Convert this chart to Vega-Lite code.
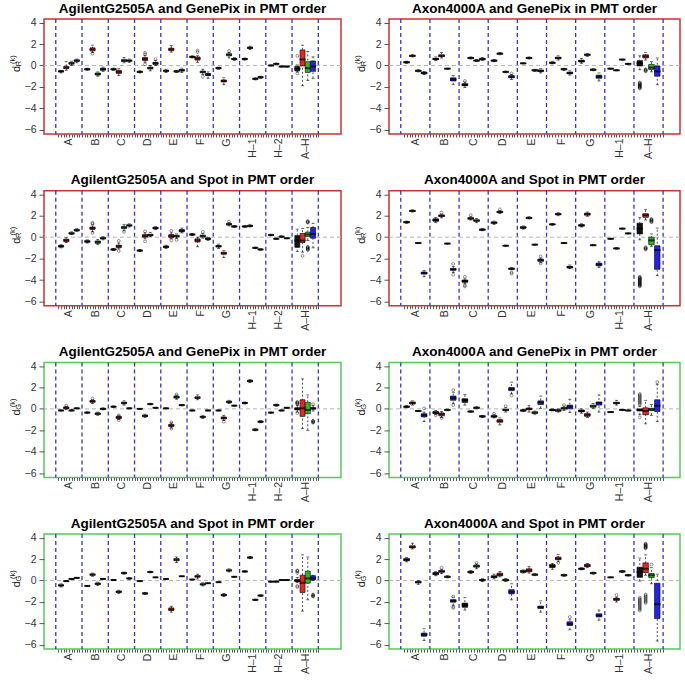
{
"$schema": "https://vega.github.io/schema/vega-lite/v6.json",
"padding": {"left": 7, "top": 0, "right": 4, "bottom": 4},
"background": "white",
"bounds": "flush",
"columns": 2,
"spacing": {"row": 56.7, "column": 48},
"datasets": {
"seps": [
{"side":"L","x":0},{"side":"L","x":5},{"side":"L","x":10},{"side":"L","x":15},{"side":"L","x":20},{"side":"L","x":25},{"side":"L","x":30},{"side":"L","x":35},{"side":"L","x":40},{"side":"L","x":45},{"side":"L","x":50},
{"side":"R","x":0},{"side":"R","x":5},{"side":"R","x":10},{"side":"R","x":15},{"side":"R","x":20},{"side":"R","x":25},{"side":"R","x":30},{"side":"R","x":35},{"side":"R","x":40},{"side":"R","x":45}
],
"box": [
{"p":1,"x":1,"s":1,"lo":-0.7,"q1":-0.6,"m":-0.55,"q3":-0.5,"hi":-0.45},
{"p":1,"x":2,"s":2,"lo":-0.45,"q1":-0.3,"m":-0.2,"q3":-0.1,"hi":0.35},
{"p":1,"x":3,"s":3,"lo":0.0,"q1":0.12,"m":0.2,"q3":0.28,"hi":0.4},
{"p":1,"x":4,"s":4,"lo":0.25,"q1":0.38,"m":0.45,"q3":0.52,"hi":0.6},
{"p":1,"x":6,"s":1,"lo":-0.45,"q1":-0.4,"m":-0.35,"q3":-0.3,"hi":-0.25},
{"p":1,"x":7,"s":2,"lo":1.2,"q1":1.35,"m":1.5,"q3":1.65,"hi":1.9},
{"p":1,"x":8,"s":3,"lo":-1.0,"q1":-0.9,"m":-0.8,"q3":-0.7,"hi":-0.6},
{"p":1,"x":9,"s":4,"lo":-0.55,"q1":-0.45,"m":-0.35,"q3":-0.25,"hi":-0.15},
{"p":1,"x":11,"s":1,"lo":-0.45,"q1":-0.4,"m":-0.35,"q3":-0.3,"hi":-0.25},
{"p":1,"x":12,"s":2,"lo":-0.95,"q1":-0.75,"m":-0.6,"q3":-0.45,"hi":-0.3},
{"p":1,"x":13,"s":3,"lo":0.25,"q1":0.38,"m":0.45,"q3":0.55,"hi":0.75},
{"p":1,"x":14,"s":4,"lo":0.3,"q1":0.4,"m":0.45,"q3":0.5,"hi":0.6},
{"p":1,"x":16,"s":1,"lo":-0.7,"q1":-0.65,"m":-0.6,"q3":-0.55,"hi":-0.5},
{"p":1,"x":17,"s":2,"lo":0.3,"q1":0.45,"m":0.6,"q3":0.75,"hi":0.95},
{"p":1,"x":18,"s":3,"lo":-0.5,"q1":-0.32,"m":-0.25,"q3":-0.15,"hi":0.0},
{"p":1,"x":19,"s":4,"lo":0.0,"q1":0.1,"m":0.2,"q3":0.3,"hi":0.45},
{"p":1,"x":21,"s":1,"lo":-0.65,"q1":-0.55,"m":-0.5,"q3":-0.45,"hi":-0.35},
{"p":1,"x":22,"s":2,"lo":1.25,"q1":1.38,"m":1.5,"q3":1.62,"hi":1.85},
{"p":1,"x":23,"s":3,"lo":-0.65,"q1":-0.6,"m":-0.55,"q3":-0.5,"hi":-0.45},
{"p":1,"x":24,"s":4,"lo":-0.65,"q1":-0.52,"m":-0.45,"q3":-0.38,"hi":-0.25},
{"p":1,"x":26,"s":1,"lo":0.7,"q1":0.75,"m":0.8,"q3":0.85,"hi":0.9},
{"p":1,"x":27,"s":2,"lo":0.3,"q1":0.5,"m":0.65,"q3":0.8,"hi":0.95},
{"p":1,"x":28,"s":3,"lo":-0.85,"q1":-0.68,"m":-0.6,"q3":-0.52,"hi":-0.35},
{"p":1,"x":29,"s":4,"lo":-1.2,"q1":-0.95,"m":-0.85,"q3":-0.75,"hi":-0.6},
{"p":1,"x":31,"s":1,"lo":-0.35,"q1":-0.3,"m":-0.25,"q3":-0.2,"hi":-0.15},
{"p":1,"x":32,"s":2,"lo":-1.8,"q1":-1.55,"m":-1.45,"q3":-1.35,"hi":-1.15},
{"p":1,"x":33,"s":3,"lo":0.7,"q1":0.9,"m":1.0,"q3":1.1,"hi":1.2},
{"p":1,"x":34,"s":4,"lo":0.45,"q1":0.55,"m":0.6,"q3":0.65,"hi":0.75},
{"p":1,"x":36,"s":1,"lo":0.5,"q1":0.55,"m":0.6,"q3":0.65,"hi":0.7},
{"p":1,"x":37,"s":2,"lo":1.5,"q1":1.58,"m":1.65,"q3":1.72,"hi":1.8},
{"p":1,"x":38,"s":3,"lo":-1.35,"q1":-1.3,"m":-1.25,"q3":-1.2,"hi":-1.15},
{"p":1,"x":39,"s":4,"lo":-1.2,"q1":-1.15,"m":-1.1,"q3":-1.05,"hi":-1.0},
{"p":1,"x":41,"s":1,"lo":-0.05,"q1":-0.02,"m":0.0,"q3":0.02,"hi":0.05},
{"p":1,"x":42,"s":2,"lo":0.08,"q1":0.12,"m":0.15,"q3":0.18,"hi":0.22},
{"p":1,"x":43,"s":3,"lo":-0.15,"q1":-0.12,"m":-0.1,"q3":-0.08,"hi":-0.05},
{"p":1,"x":44,"s":4,"lo":-0.15,"q1":-0.12,"m":-0.1,"q3":-0.08,"hi":-0.05},
{"p":1,"x":46,"s":1,"lo":-0.6,"q1":-0.5,"m":-0.3,"q3":-0.1,"hi":0.05},
{"p":1,"x":47,"s":2,"lo":-1.9,"q1":-0.05,"m":0.55,"q3":1.45,"hi":1.9},
{"p":1,"x":48,"s":3,"lo":-1.4,"q1":-0.65,"m":-0.25,"q3":0.35,"hi":1.3},
{"p":1,"x":49,"s":4,"lo":-1.2,"q1":-0.55,"m":-0.1,"q3":0.42,"hi":0.8},
{"p":2,"x":1,"s":1,"lo":0.2,"q1":0.25,"m":0.3,"q3":0.35,"hi":0.4},
{"p":2,"x":2,"s":2,"lo":0.8,"q1":0.85,"m":0.9,"q3":0.95,"hi":1.0},
{"p":2,"x":3,"s":3,"lo":-0.6,"q1":-0.55,"m":-0.5,"q3":-0.45,"hi":-0.4},
{"p":2,"x":4,"s":4,"lo":-0.85,"q1":-0.78,"m":-0.7,"q3":-0.62,"hi":-0.55},
{"p":2,"x":6,"s":1,"lo":0.45,"q1":0.55,"m":0.6,"q3":0.68,"hi":0.8},
{"p":2,"x":7,"s":2,"lo":0.7,"q1":0.82,"m":0.9,"q3":1.0,"hi":1.2},
{"p":2,"x":8,"s":3,"lo":-0.35,"q1":-0.32,"m":-0.3,"q3":-0.28,"hi":-0.25},
{"p":2,"x":9,"s":4,"lo":-1.8,"q1":-1.45,"m":-1.3,"q3":-1.15,"hi":-0.95},
{"p":2,"x":11,"s":1,"lo":-2.05,"q1":-1.9,"m":-1.8,"q3":-1.7,"hi":-1.55},
{"p":2,"x":12,"s":2,"lo":0.6,"q1":0.65,"m":0.7,"q3":0.75,"hi":0.8},
{"p":2,"x":13,"s":3,"lo":0.38,"q1":0.42,"m":0.45,"q3":0.5,"hi":0.55},
{"p":2,"x":14,"s":4,"lo":0.45,"q1":0.53,"m":0.6,"q3":0.67,"hi":0.75},
{"p":2,"x":16,"s":1,"lo":0.35,"q1":0.4,"m":0.45,"q3":0.5,"hi":0.55},
{"p":2,"x":17,"s":2,"lo":1.0,"q1":1.05,"m":1.1,"q3":1.15,"hi":1.2},
{"p":2,"x":18,"s":3,"lo":-0.68,"q1":-0.63,"m":-0.6,"q3":-0.57,"hi":-0.52},
{"p":2,"x":19,"s":4,"lo":-1.3,"q1":-1.15,"m":-1.05,"q3":-0.95,"hi":-0.85},
{"p":2,"x":21,"s":1,"lo":0.15,"q1":0.18,"m":0.2,"q3":0.22,"hi":0.25},
{"p":2,"x":22,"s":2,"lo":0.6,"q1":0.66,"m":0.7,"q3":0.74,"hi":0.8},
{"p":2,"x":23,"s":3,"lo":-0.55,"q1":-0.5,"m":-0.45,"q3":-0.4,"hi":-0.35},
{"p":2,"x":24,"s":4,"lo":-0.7,"q1":-0.58,"m":-0.5,"q3":-0.42,"hi":-0.3},
{"p":2,"x":26,"s":1,"lo":0.15,"q1":0.2,"m":0.25,"q3":0.3,"hi":0.4},
{"p":2,"x":27,"s":2,"lo":0.5,"q1":0.62,"m":0.7,"q3":0.78,"hi":0.9},
{"p":2,"x":28,"s":3,"lo":-0.45,"q1":-0.4,"m":-0.35,"q3":-0.3,"hi":-0.25},
{"p":2,"x":29,"s":4,"lo":-0.9,"q1":-0.78,"m":-0.7,"q3":-0.62,"hi":-0.5},
{"p":2,"x":31,"s":1,"lo":0.2,"q1":0.33,"m":0.4,"q3":0.5,"hi":0.65},
{"p":2,"x":32,"s":2,"lo":0.85,"q1":0.95,"m":1.0,"q3":1.05,"hi":1.1},
{"p":2,"x":33,"s":3,"lo":-0.5,"q1":-0.45,"m":-0.4,"q3":-0.35,"hi":-0.3},
{"p":2,"x":34,"s":4,"lo":-1.45,"q1":-1.2,"m":-1.05,"q3":-0.9,"hi":-0.7},
{"p":2,"x":36,"s":1,"lo":-0.35,"q1":-0.32,"m":-0.3,"q3":-0.28,"hi":-0.25},
{"p":2,"x":37,"s":2,"lo":-0.5,"q1":-0.47,"m":-0.45,"q3":-0.43,"hi":-0.4},
{"p":2,"x":38,"s":3,"lo":0.5,"q1":0.53,"m":0.55,"q3":0.57,"hi":0.6},
{"p":2,"x":39,"s":4,"lo":0.1,"q1":0.13,"m":0.15,"q3":0.17,"hi":0.2},
{"p":2,"x":41,"s":1,"lo":-0.4,"q1":-0.05,"m":0.2,"q3":0.45,"hi":0.9},
{"p":2,"x":42,"s":2,"lo":0.5,"q1":0.7,"m":0.85,"q3":1.0,"hi":1.2},
{"p":2,"x":43,"s":3,"lo":-0.6,"q1":-0.38,"m":-0.2,"q3":0.1,"hi":0.35},
{"p":2,"x":44,"s":4,"lo":-1.8,"q1":-1.0,"m":-0.55,"q3":-0.05,"hi":0.7},
{"p":3,"x":1,"s":1,"lo":-1.0,"q1":-0.92,"m":-0.85,"q3":-0.78,"hi":-0.7},
{"p":3,"x":2,"s":2,"lo":-0.5,"q1":-0.42,"m":-0.3,"q3":-0.18,"hi":-0.05},
{"p":3,"x":3,"s":3,"lo":0.25,"q1":0.3,"m":0.35,"q3":0.42,"hi":0.5},
{"p":3,"x":4,"s":4,"lo":0.55,"q1":0.6,"m":0.65,"q3":0.7,"hi":0.8},
{"p":3,"x":6,"s":1,"lo":-0.55,"q1":-0.47,"m":-0.4,"q3":-0.33,"hi":-0.25},
{"p":3,"x":7,"s":2,"lo":0.5,"q1":0.72,"m":0.85,"q3":0.95,"hi":1.15},
{"p":3,"x":8,"s":3,"lo":-0.7,"q1":-0.58,"m":-0.45,"q3":-0.35,"hi":-0.2},
{"p":3,"x":9,"s":4,"lo":-0.25,"q1":-0.15,"m":-0.1,"q3":-0.05,"hi":0.05},
{"p":3,"x":11,"s":1,"lo":-1.25,"q1":-1.2,"m":-1.15,"q3":-1.1,"hi":-1.05},
{"p":3,"x":12,"s":2,"lo":-1.1,"q1":-0.98,"m":-0.85,"q3":-0.75,"hi":-0.55},
{"p":3,"x":13,"s":3,"lo":0.6,"q1":0.8,"m":0.9,"q3":1.0,"hi":1.2},
{"p":3,"x":14,"s":4,"lo":0.95,"q1":1.05,"m":1.1,"q3":1.15,"hi":1.25},
{"p":3,"x":16,"s":1,"lo":-1.35,"q1":-1.3,"m":-1.25,"q3":-1.2,"hi":-1.15},
{"p":3,"x":17,"s":2,"lo":-0.15,"q1":0.0,"m":0.1,"q3":0.25,"hi":0.4},
{"p":3,"x":18,"s":3,"lo":0.05,"q1":0.12,"m":0.2,"q3":0.28,"hi":0.45},
{"p":3,"x":19,"s":4,"lo":0.7,"q1":0.78,"m":0.85,"q3":0.92,"hi":1.0},
{"p":3,"x":21,"s":1,"lo":-1.05,"q1":-0.97,"m":-0.9,"q3":-0.83,"hi":-0.75},
{"p":3,"x":22,"s":2,"lo":-0.15,"q1":-0.05,"m":0.1,"q3":0.25,"hi":0.4},
{"p":3,"x":23,"s":3,"lo":-0.1,"q1":0.02,"m":0.1,"q3":0.18,"hi":0.3},
{"p":3,"x":24,"s":4,"lo":0.4,"q1":0.5,"m":0.6,"q3":0.72,"hi":0.85},
{"p":3,"x":26,"s":1,"lo":0.15,"q1":0.2,"m":0.25,"q3":0.3,"hi":0.35},
{"p":3,"x":27,"s":2,"lo":-0.9,"q1":-0.45,"m":-0.3,"q3":-0.15,"hi":0.0},
{"p":3,"x":28,"s":3,"lo":-0.1,"q1":0.02,"m":0.1,"q3":0.2,"hi":0.35},
{"p":3,"x":29,"s":4,"lo":-0.3,"q1":-0.22,"m":-0.15,"q3":-0.08,"hi":0.0},
{"p":3,"x":31,"s":1,"lo":-1.05,"q1":-0.92,"m":-0.85,"q3":-0.78,"hi":-0.65},
{"p":3,"x":32,"s":2,"lo":-1.9,"q1":-1.6,"m":-1.5,"q3":-1.4,"hi":-1.25},
{"p":3,"x":33,"s":3,"lo":1.05,"q1":1.15,"m":1.2,"q3":1.28,"hi":1.35},
{"p":3,"x":34,"s":4,"lo":0.9,"q1":0.95,"m":1.0,"q3":1.05,"hi":1.1},
{"p":3,"x":36,"s":1,"lo":0.92,"q1":0.97,"m":1.0,"q3":1.03,"hi":1.08},
{"p":3,"x":37,"s":2,"lo":0.95,"q1":1.0,"m":1.05,"q3":1.1,"hi":1.2},
{"p":3,"x":38,"s":3,"lo":-1.08,"q1":-1.03,"m":-1.0,"q3":-0.97,"hi":-0.92},
{"p":3,"x":39,"s":4,"lo":-1.22,"q1":-1.18,"m":-1.15,"q3":-1.12,"hi":-1.08},
{"p":3,"x":41,"s":1,"lo":0.12,"q1":0.17,"m":0.2,"q3":0.23,"hi":0.28},
{"p":3,"x":42,"s":2,"lo":-0.22,"q1":-0.18,"m":-0.15,"q3":-0.12,"hi":-0.08},
{"p":3,"x":43,"s":3,"lo":-0.02,"q1":0.02,"m":0.05,"q3":0.08,"hi":0.12},
{"p":3,"x":44,"s":4,"lo":-0.15,"q1":-0.12,"m":-0.1,"q3":-0.08,"hi":-0.05},
{"p":3,"x":46,"s":1,"lo":-1.35,"q1":-0.95,"m":-0.3,"q3":0.15,"hi":0.75},
{"p":3,"x":47,"s":2,"lo":-1.4,"q1":-0.5,"m":-0.3,"q3":0.35,"hi":0.8},
{"p":3,"x":48,"s":3,"lo":-0.3,"q1":0.05,"m":0.25,"q3":0.47,"hi":0.9},
{"p":3,"x":49,"s":4,"lo":-1.0,"q1":-0.1,"m":0.3,"q3":0.9,"hi":1.3},
{"p":4,"x":1,"s":1,"lo":1.3,"q1":1.35,"m":1.4,"q3":1.45,"hi":1.5},
{"p":4,"x":2,"s":2,"lo":2.35,"q1":2.4,"m":2.45,"q3":2.5,"hi":2.55},
{"p":4,"x":3,"s":3,"lo":-0.6,"q1":-0.57,"m":-0.55,"q3":-0.53,"hi":-0.5},
{"p":4,"x":4,"s":4,"lo":-3.7,"q1":-3.45,"m":-3.35,"q3":-3.25,"hi":-3.1},
{"p":4,"x":6,"s":1,"lo":1.35,"q1":1.48,"m":1.6,"q3":1.72,"hi":1.85},
{"p":4,"x":7,"s":2,"lo":1.8,"q1":1.92,"m":2.0,"q3":2.08,"hi":2.15},
{"p":4,"x":8,"s":3,"lo":-0.65,"q1":-0.62,"m":-0.6,"q3":-0.58,"hi":-0.55},
{"p":4,"x":9,"s":4,"lo":-3.3,"q1":-3.1,"m":-3.0,"q3":-2.92,"hi":-2.75},
{"p":4,"x":11,"s":1,"lo":-4.35,"q1":-4.22,"m":-4.1,"q3":-4.0,"hi":-3.9},
{"p":4,"x":12,"s":2,"lo":1.6,"q1":1.68,"m":1.75,"q3":1.82,"hi":1.9},
{"p":4,"x":13,"s":3,"lo":1.35,"q1":1.48,"m":1.55,"q3":1.62,"hi":1.75},
{"p":4,"x":14,"s":4,"lo":0.6,"q1":0.65,"m":0.7,"q3":0.75,"hi":0.8},
{"p":4,"x":16,"s":1,"lo":1.2,"q1":1.3,"m":1.35,"q3":1.42,"hi":1.5},
{"p":4,"x":17,"s":2,"lo":2.2,"q1":2.28,"m":2.35,"q3":2.42,"hi":2.5},
{"p":4,"x":18,"s":3,"lo":-0.85,"q1":-0.82,"m":-0.8,"q3":-0.78,"hi":-0.75},
{"p":4,"x":19,"s":4,"lo":-3.05,"q1":-3.0,"m":-2.95,"q3":-2.9,"hi":-2.85},
{"p":4,"x":21,"s":1,"lo":0.75,"q1":0.83,"m":0.9,"q3":0.97,"hi":1.05},
{"p":4,"x":22,"s":2,"lo":1.7,"q1":1.75,"m":1.8,"q3":1.85,"hi":1.9},
{"p":4,"x":23,"s":3,"lo":-0.75,"q1":-0.72,"m":-0.7,"q3":-0.68,"hi":-0.65},
{"p":4,"x":24,"s":4,"lo":-2.4,"q1":-2.25,"m":-2.15,"q3":-2.05,"hi":-1.95},
{"p":4,"x":26,"s":1,"lo":1.12,"q1":1.17,"m":1.2,"q3":1.23,"hi":1.28},
{"p":4,"x":27,"s":2,"lo":2.0,"q1":2.1,"m":2.15,"q3":2.2,"hi":2.3},
{"p":4,"x":28,"s":3,"lo":-0.6,"q1":-0.57,"m":-0.55,"q3":-0.53,"hi":-0.5},
{"p":4,"x":29,"s":4,"lo":-2.95,"q1":-2.88,"m":-2.8,"q3":-2.72,"hi":-2.6},
{"p":4,"x":31,"s":1,"lo":0.95,"q1":1.03,"m":1.1,"q3":1.17,"hi":1.25},
{"p":4,"x":32,"s":2,"lo":1.95,"q1":2.05,"m":2.15,"q3":2.25,"hi":2.35},
{"p":4,"x":33,"s":3,"lo":-0.8,"q1":-0.77,"m":-0.75,"q3":-0.73,"hi":-0.7},
{"p":4,"x":34,"s":4,"lo":-2.85,"q1":-2.68,"m":-2.55,"q3":-2.42,"hi":-2.3},
{"p":4,"x":36,"s":1,"lo":-0.2,"q1":-0.17,"m":-0.15,"q3":-0.13,"hi":-0.1},
{"p":4,"x":37,"s":2,"lo":-1.12,"q1":-1.08,"m":-1.05,"q3":-1.02,"hi":-0.98},
{"p":4,"x":38,"s":3,"lo":0.75,"q1":0.78,"m":0.8,"q3":0.82,"hi":0.85},
{"p":4,"x":39,"s":4,"lo":0.3,"q1":0.33,"m":0.35,"q3":0.37,"hi":0.4},
{"p":4,"x":41,"s":1,"lo":-0.25,"q1":0.3,"m":0.8,"q3":1.3,"hi":1.85},
{"p":4,"x":42,"s":2,"lo":1.6,"q1":1.85,"m":2.05,"q3":2.2,"hi":2.6},
{"p":4,"x":43,"s":3,"lo":-0.85,"q1":-0.7,"m":-0.3,"q3":0.0,"hi":0.3},
{"p":4,"x":44,"s":4,"lo":-3.6,"q1":-3.0,"m":-1.2,"q3":-0.8,"hi":0.85},
{"p":5,"x":1,"s":1,"lo":-0.2,"q1":-0.17,"m":-0.15,"q3":-0.13,"hi":-0.1},
{"p":5,"x":2,"s":2,"lo":-0.05,"q1":0.02,"m":0.1,"q3":0.18,"hi":0.25},
{"p":5,"x":3,"s":3,"lo":-0.2,"q1":-0.17,"m":-0.15,"q3":-0.12,"hi":-0.08},
{"p":5,"x":4,"s":4,"lo":0.0,"q1":0.03,"m":0.05,"q3":0.07,"hi":0.1},
{"p":5,"x":6,"s":1,"lo":-0.42,"q1":-0.38,"m":-0.35,"q3":-0.32,"hi":-0.28},
{"p":5,"x":7,"s":2,"lo":0.5,"q1":0.62,"m":0.7,"q3":0.78,"hi":0.85},
{"p":5,"x":8,"s":3,"lo":-0.6,"q1":-0.52,"m":-0.45,"q3":-0.38,"hi":-0.3},
{"p":5,"x":9,"s":4,"lo":-0.1,"q1":-0.04,"m":0.0,"q3":0.04,"hi":0.1},
{"p":5,"x":11,"s":1,"lo":0.12,"q1":0.17,"m":0.2,"q3":0.23,"hi":0.28},
{"p":5,"x":12,"s":2,"lo":-1.0,"q1":-0.9,"m":-0.8,"q3":-0.7,"hi":-0.6},
{"p":5,"x":13,"s":3,"lo":0.35,"q1":0.47,"m":0.55,"q3":0.63,"hi":0.75},
{"p":5,"x":14,"s":4,"lo":0.0,"q1":0.03,"m":0.05,"q3":0.07,"hi":0.1},
{"p":5,"x":16,"s":1,"lo":-0.03,"q1":-0.01,"m":0.0,"q3":0.01,"hi":0.03},
{"p":5,"x":17,"s":2,"lo":-0.8,"q1":-0.72,"m":-0.65,"q3":-0.58,"hi":-0.5},
{"p":5,"x":18,"s":3,"lo":0.38,"q1":0.42,"m":0.45,"q3":0.48,"hi":0.52},
{"p":5,"x":19,"s":4,"lo":0.05,"q1":0.08,"m":0.1,"q3":0.12,"hi":0.15},
{"p":5,"x":21,"s":1,"lo":0.0,"q1":0.03,"m":0.05,"q3":0.07,"hi":0.1},
{"p":5,"x":22,"s":2,"lo":-1.8,"q1":-1.65,"m":-1.55,"q3":-1.45,"hi":-1.3},
{"p":5,"x":23,"s":3,"lo":0.9,"q1":1.0,"m":1.1,"q3":1.2,"hi":1.3},
{"p":5,"x":24,"s":4,"lo":0.28,"q1":0.32,"m":0.35,"q3":0.38,"hi":0.42},
{"p":5,"x":26,"s":1,"lo":-0.2,"q1":-0.17,"m":-0.15,"q3":-0.13,"hi":-0.1},
{"p":5,"x":27,"s":2,"lo":0.85,"q1":0.98,"m":1.05,"q3":1.12,"hi":1.3},
{"p":5,"x":28,"s":3,"lo":-0.9,"q1":-0.8,"m":-0.75,"q3":-0.7,"hi":-0.6},
{"p":5,"x":29,"s":4,"lo":-0.2,"q1":-0.17,"m":-0.15,"q3":-0.13,"hi":-0.1},
{"p":5,"x":31,"s":1,"lo":-0.2,"q1":-0.17,"m":-0.15,"q3":-0.13,"hi":-0.1},
{"p":5,"x":32,"s":2,"lo":-1.1,"q1":-0.95,"m":-0.85,"q3":-0.75,"hi":-0.6},
{"p":5,"x":33,"s":3,"lo":0.5,"q1":0.58,"m":0.65,"q3":0.72,"hi":0.8},
{"p":5,"x":34,"s":4,"lo":0.25,"q1":0.28,"m":0.3,"q3":0.32,"hi":0.35},
{"p":5,"x":36,"s":1,"lo":0.45,"q1":0.5,"m":0.55,"q3":0.6,"hi":0.65},
{"p":5,"x":37,"s":2,"lo":2.45,"q1":2.53,"m":2.6,"q3":2.67,"hi":2.75},
{"p":5,"x":38,"s":3,"lo":-2.05,"q1":-2.0,"m":-1.95,"q3":-1.9,"hi":-1.85},
{"p":5,"x":39,"s":4,"lo":-1.3,"q1":-1.25,"m":-1.2,"q3":-1.15,"hi":-1.1},
{"p":5,"x":41,"s":1,"lo":-0.4,"q1":-0.37,"m":-0.35,"q3":-0.33,"hi":-0.3},
{"p":5,"x":42,"s":2,"lo":0.25,"q1":0.3,"m":0.35,"q3":0.4,"hi":0.45},
{"p":5,"x":43,"s":3,"lo":-0.2,"q1":-0.17,"m":-0.15,"q3":-0.13,"hi":-0.1},
{"p":5,"x":44,"s":4,"lo":0.05,"q1":0.08,"m":0.1,"q3":0.12,"hi":0.15},
{"p":5,"x":46,"s":1,"lo":-0.3,"q1":-0.1,"m":0.0,"q3":0.1,"hi":0.3},
{"p":5,"x":47,"s":2,"lo":-1.85,"q1":-0.7,"m":0.05,"q3":0.85,"hi":2.8},
{"p":5,"x":48,"s":3,"lo":-2.0,"q1":-0.45,"m":-0.1,"q3":0.6,"hi":1.3},
{"p":5,"x":49,"s":4,"lo":-0.2,"q1":-0.03,"m":0.05,"q3":0.12,"hi":0.3},
{"p":6,"x":1,"s":1,"lo":0.1,"q1":0.15,"m":0.2,"q3":0.25,"hi":0.3},
{"p":6,"x":2,"s":2,"lo":0.35,"q1":0.45,"m":0.55,"q3":0.65,"hi":0.75},
{"p":6,"x":3,"s":3,"lo":-0.25,"q1":-0.22,"m":-0.2,"q3":-0.18,"hi":-0.15},
{"p":6,"x":4,"s":4,"lo":-1.2,"q1":-0.75,"m":-0.6,"q3":-0.45,"hi":-0.3},
{"p":6,"x":6,"s":1,"lo":-0.55,"q1":-0.45,"m":-0.35,"q3":-0.25,"hi":-0.15},
{"p":6,"x":7,"s":2,"lo":-0.8,"q1":-0.65,"m":-0.5,"q3":-0.38,"hi":-0.25},
{"p":6,"x":8,"s":3,"lo":-0.18,"q1":-0.13,"m":-0.1,"q3":-0.07,"hi":-0.02},
{"p":6,"x":9,"s":4,"lo":0.5,"q1":0.8,"m":1.0,"q3":1.2,"hi":1.55},
{"p":6,"x":11,"s":1,"lo":0.35,"q1":0.6,"m":0.8,"q3":0.95,"hi":1.35},
{"p":6,"x":12,"s":2,"lo":-0.32,"q1":-0.28,"m":-0.25,"q3":-0.22,"hi":-0.18},
{"p":6,"x":13,"s":3,"lo":0.0,"q1":0.05,"m":0.1,"q3":0.15,"hi":0.2},
{"p":6,"x":14,"s":4,"lo":-0.8,"q1":-0.75,"m":-0.7,"q3":-0.65,"hi":-0.6},
{"p":6,"x":16,"s":1,"lo":-0.85,"q1":-0.77,"m":-0.7,"q3":-0.63,"hi":-0.5},
{"p":6,"x":17,"s":2,"lo":-1.5,"q1":-1.25,"m":-1.15,"q3":-1.0,"hi":-0.85},
{"p":6,"x":18,"s":3,"lo":-0.3,"q1":-0.17,"m":-0.1,"q3":-0.03,"hi":0.1},
{"p":6,"x":19,"s":4,"lo":1.4,"q1":1.7,"m":1.85,"q3":2.0,"hi":2.5},
{"p":6,"x":21,"s":1,"lo":-0.25,"q1":-0.2,"m":-0.15,"q3":-0.1,"hi":-0.05},
{"p":6,"x":22,"s":2,"lo":-0.3,"q1":-0.08,"m":0.0,"q3":0.08,"hi":0.3},
{"p":6,"x":23,"s":3,"lo":-0.5,"q1":-0.42,"m":-0.35,"q3":-0.28,"hi":-0.2},
{"p":6,"x":24,"s":4,"lo":0.05,"q1":0.4,"m":0.6,"q3":0.75,"hi":1.2},
{"p":6,"x":26,"s":1,"lo":-0.2,"q1":-0.15,"m":-0.1,"q3":-0.05,"hi":0.0},
{"p":6,"x":27,"s":2,"lo":-0.3,"q1":-0.22,"m":-0.15,"q3":-0.08,"hi":0.0},
{"p":6,"x":28,"s":3,"lo":-0.15,"q1":-0.02,"m":0.05,"q3":0.12,"hi":0.25},
{"p":6,"x":29,"s":4,"lo":-0.35,"q1":0.0,"m":0.2,"q3":0.35,"hi":0.9},
{"p":6,"x":31,"s":1,"lo":-0.4,"q1":-0.28,"m":-0.2,"q3":-0.1,"hi":0.0},
{"p":6,"x":32,"s":2,"lo":-0.8,"q1":-0.7,"m":-0.55,"q3":-0.45,"hi":-0.3},
{"p":6,"x":33,"s":3,"lo":0.05,"q1":0.15,"m":0.25,"q3":0.35,"hi":0.5},
{"p":6,"x":34,"s":4,"lo":-0.3,"q1":0.35,"m":0.55,"q3":0.65,"hi":1.3},
{"p":6,"x":36,"s":1,"lo":-0.35,"q1":-0.32,"m":-0.3,"q3":-0.28,"hi":-0.25},
{"p":6,"x":37,"s":2,"lo":0.35,"q1":0.48,"m":0.55,"q3":0.62,"hi":0.8},
{"p":6,"x":38,"s":3,"lo":-0.13,"q1":-0.11,"m":-0.1,"q3":-0.09,"hi":-0.07},
{"p":6,"x":39,"s":4,"lo":-0.2,"q1":-0.17,"m":-0.15,"q3":-0.13,"hi":-0.1},
{"p":6,"x":41,"s":1,"lo":-0.55,"q1":-0.2,"m":-0.1,"q3":0.0,"hi":0.25},
{"p":6,"x":42,"s":2,"lo":-1.4,"q1":-0.55,"m":-0.2,"q3":0.1,"hi":0.8},
{"p":6,"x":43,"s":3,"lo":-0.6,"q1":-0.15,"m":-0.05,"q3":0.05,"hi":0.4},
{"p":6,"x":44,"s":4,"lo":-1.2,"q1":-0.25,"m":0.3,"q3":0.85,"hi":2.3},
{"p":7,"x":1,"s":1,"lo":-0.6,"q1":-0.5,"m":-0.45,"q3":-0.4,"hi":-0.3},
{"p":7,"x":2,"s":2,"lo":-0.1,"q1":-0.07,"m":-0.05,"q3":-0.03,"hi":0.0},
{"p":7,"x":3,"s":3,"lo":0.1,"q1":0.13,"m":0.15,"q3":0.17,"hi":0.2},
{"p":7,"x":4,"s":4,"lo":0.2,"q1":0.23,"m":0.25,"q3":0.27,"hi":0.3},
{"p":7,"x":6,"s":1,"lo":-0.55,"q1":-0.52,"m":-0.5,"q3":-0.48,"hi":-0.45},
{"p":7,"x":7,"s":2,"lo":0.4,"q1":0.5,"m":0.55,"q3":0.62,"hi":0.7},
{"p":7,"x":8,"s":3,"lo":-0.45,"q1":-0.36,"m":-0.3,"q3":-0.24,"hi":-0.15},
{"p":7,"x":9,"s":4,"lo":0.1,"q1":0.13,"m":0.15,"q3":0.17,"hi":0.2},
{"p":7,"x":11,"s":1,"lo":0.0,"q1":0.03,"m":0.05,"q3":0.07,"hi":0.1},
{"p":7,"x":12,"s":2,"lo":-1.2,"q1":-1.12,"m":-1.05,"q3":-0.98,"hi":-0.9},
{"p":7,"x":13,"s":3,"lo":0.6,"q1":0.65,"m":0.7,"q3":0.75,"hi":0.8},
{"p":7,"x":14,"s":4,"lo":0.12,"q1":0.17,"m":0.2,"q3":0.23,"hi":0.28},
{"p":7,"x":16,"s":1,"lo":-0.08,"q1":-0.06,"m":-0.05,"q3":-0.04,"hi":-0.02},
{"p":7,"x":17,"s":2,"lo":-1.3,"q1":-1.25,"m":-1.2,"q3":-1.15,"hi":-1.1},
{"p":7,"x":18,"s":3,"lo":0.72,"q1":0.77,"m":0.8,"q3":0.83,"hi":0.88},
{"p":7,"x":19,"s":4,"lo":0.27,"q1":0.29,"m":0.3,"q3":0.31,"hi":0.33},
{"p":7,"x":21,"s":1,"lo":0.12,"q1":0.14,"m":0.15,"q3":0.16,"hi":0.18},
{"p":7,"x":22,"s":2,"lo":-2.95,"q1":-2.8,"m":-2.7,"q3":-2.55,"hi":-2.4},
{"p":7,"x":23,"s":3,"lo":1.7,"q1":1.85,"m":1.95,"q3":2.05,"hi":2.2},
{"p":7,"x":24,"s":4,"lo":0.37,"q1":0.39,"m":0.4,"q3":0.41,"hi":0.43},
{"p":7,"x":26,"s":1,"lo":0.07,"q1":0.09,"m":0.1,"q3":0.11,"hi":0.13},
{"p":7,"x":27,"s":2,"lo":0.15,"q1":0.32,"m":0.4,"q3":0.45,"hi":0.6},
{"p":7,"x":28,"s":3,"lo":-0.5,"q1":-0.4,"m":-0.35,"q3":-0.3,"hi":-0.2},
{"p":7,"x":29,"s":4,"lo":-0.28,"q1":-0.26,"m":-0.25,"q3":-0.24,"hi":-0.22},
{"p":7,"x":31,"s":1,"lo":-0.18,"q1":-0.16,"m":-0.15,"q3":-0.14,"hi":-0.12},
{"p":7,"x":32,"s":2,"lo":-1.5,"q1":-1.42,"m":-1.35,"q3":-1.28,"hi":-1.2},
{"p":7,"x":33,"s":3,"lo":0.8,"q1":0.9,"m":0.95,"q3":1.0,"hi":1.1},
{"p":7,"x":34,"s":4,"lo":0.3,"q1":0.33,"m":0.35,"q3":0.37,"hi":0.4},
{"p":7,"x":36,"s":1,"lo":0.78,"q1":0.82,"m":0.85,"q3":0.88,"hi":0.92},
{"p":7,"x":37,"s":2,"lo":2.05,"q1":2.1,"m":2.15,"q3":2.2,"hi":2.25},
{"p":7,"x":38,"s":3,"lo":-1.87,"q1":-1.83,"m":-1.8,"q3":-1.77,"hi":-1.73},
{"p":7,"x":39,"s":4,"lo":-1.47,"q1":-1.43,"m":-1.4,"q3":-1.37,"hi":-1.33},
{"p":7,"x":41,"s":1,"lo":-0.15,"q1":-0.12,"m":-0.1,"q3":-0.08,"hi":-0.05},
{"p":7,"x":42,"s":2,"lo":-0.15,"q1":-0.12,"m":-0.1,"q3":-0.08,"hi":-0.05},
{"p":7,"x":43,"s":3,"lo":0.0,"q1":0.03,"m":0.05,"q3":0.07,"hi":0.1},
{"p":7,"x":44,"s":4,"lo":0.0,"q1":0.03,"m":0.05,"q3":0.07,"hi":0.1},
{"p":7,"x":46,"s":1,"lo":-0.2,"q1":-0.1,"m":0.0,"q3":0.1,"hi":0.3},
{"p":7,"x":47,"s":2,"lo":-2.85,"q1":-1.12,"m":-0.2,"q3":0.5,"hi":2.4},
{"p":7,"x":48,"s":3,"lo":-1.8,"q1":-0.25,"m":0.2,"q3":0.88,"hi":2.2},
{"p":7,"x":49,"s":4,"lo":0.0,"q1":0.06,"m":0.2,"q3":0.45,"hi":0.5},
{"p":8,"x":1,"s":1,"lo":1.75,"q1":1.85,"m":1.95,"q3":2.05,"hi":2.15},
{"p":8,"x":2,"s":2,"lo":2.95,"q1":3.05,"m":3.15,"q3":3.25,"hi":3.5},
{"p":8,"x":3,"s":3,"lo":-0.35,"q1":-0.22,"m":-0.15,"q3":-0.08,"hi":0.0},
{"p":8,"x":4,"s":4,"lo":-5.6,"q1":-5.2,"m":-5.05,"q3":-4.9,"hi":-4.5},
{"p":8,"x":6,"s":1,"lo":0.45,"q1":0.55,"m":0.65,"q3":0.75,"hi":0.85},
{"p":8,"x":7,"s":2,"lo":0.65,"q1":0.78,"m":0.85,"q3":0.95,"hi":1.05},
{"p":8,"x":8,"s":3,"lo":0.25,"q1":0.3,"m":0.35,"q3":0.4,"hi":0.45},
{"p":8,"x":9,"s":4,"lo":-2.3,"q1":-2.02,"m":-1.9,"q3":-1.78,"hi":-1.55},
{"p":8,"x":11,"s":1,"lo":-2.75,"q1":-2.5,"m":-2.3,"q3":-2.1,"hi":-1.6},
{"p":8,"x":12,"s":2,"lo":0.65,"q1":0.73,"m":0.8,"q3":0.87,"hi":0.95},
{"p":8,"x":13,"s":3,"lo":1.1,"q1":1.25,"m":1.35,"q3":1.45,"hi":1.55},
{"p":8,"x":14,"s":4,"lo":-0.1,"q1":-0.02,"m":0.05,"q3":0.1,"hi":0.2},
{"p":8,"x":16,"s":1,"lo":0.15,"q1":0.27,"m":0.35,"q3":0.45,"hi":0.6},
{"p":8,"x":17,"s":2,"lo":0.35,"q1":0.45,"m":0.55,"q3":0.7,"hi":0.85},
{"p":8,"x":18,"s":3,"lo":-0.1,"q1":-0.02,"m":0.05,"q3":0.12,"hi":0.2},
{"p":8,"x":19,"s":4,"lo":-1.8,"q1":-1.25,"m":-1.05,"q3":-0.85,"hi":-0.3},
{"p":8,"x":21,"s":1,"lo":0.7,"q1":0.78,"m":0.85,"q3":0.92,"hi":1.0},
{"p":8,"x":22,"s":2,"lo":0.7,"q1":0.82,"m":0.95,"q3":1.1,"hi":1.3},
{"p":8,"x":23,"s":3,"lo":0.45,"q1":0.5,"m":0.55,"q3":0.6,"hi":0.65},
{"p":8,"x":24,"s":4,"lo":-2.95,"q1":-2.6,"m":-2.5,"q3":-2.38,"hi":-1.9},
{"p":8,"x":26,"s":1,"lo":1.05,"q1":1.22,"m":1.35,"q3":1.5,"hi":1.6},
{"p":8,"x":27,"s":2,"lo":1.75,"q1":1.95,"m":2.05,"q3":2.2,"hi":2.45},
{"p":8,"x":28,"s":3,"lo":0.4,"q1":0.45,"m":0.5,"q3":0.55,"hi":0.6},
{"p":8,"x":29,"s":4,"lo":-4.6,"q1":-4.2,"m":-4.05,"q3":-3.85,"hi":-3.6},
{"p":8,"x":31,"s":1,"lo":1.0,"q1":1.05,"m":1.1,"q3":1.15,"hi":1.2},
{"p":8,"x":32,"s":2,"lo":1.2,"q1":1.3,"m":1.4,"q3":1.52,"hi":1.6},
{"p":8,"x":33,"s":3,"lo":0.6,"q1":0.65,"m":0.7,"q3":0.75,"hi":0.8},
{"p":8,"x":34,"s":4,"lo":-3.7,"q1":-3.4,"m":-3.25,"q3":-3.1,"hi":-2.75},
{"p":8,"x":36,"s":1,"lo":0.27,"q1":0.29,"m":0.3,"q3":0.31,"hi":0.33},
{"p":8,"x":37,"s":2,"lo":-2.0,"q1":-1.85,"m":-1.75,"q3":-1.65,"hi":-1.55},
{"p":8,"x":38,"s":3,"lo":0.75,"q1":0.8,"m":0.85,"q3":0.9,"hi":0.95},
{"p":8,"x":39,"s":4,"lo":0.42,"q1":0.46,"m":0.5,"q3":0.54,"hi":0.58},
{"p":8,"x":41,"s":1,"lo":-0.05,"q1":0.3,"m":0.8,"q3":1.25,"hi":2.1},
{"p":8,"x":42,"s":2,"lo":0.5,"q1":0.75,"m":1.1,"q3":1.65,"hi":2.4},
{"p":8,"x":43,"s":3,"lo":-0.3,"q1":0.28,"m":0.5,"q3":0.67,"hi":1.2},
{"p":8,"x":44,"s":4,"lo":-5.65,"q1":-3.55,"m":-2.2,"q3":-0.25,"hi":0.6}
],
"out": [
{"p":1,"x":7,"v":1.1},{"p":1,"x":17,"v":1.2},{"p":1,"x":17,"v":1.05},{"p":1,"x":17,"v":0.1},{"p":1,"x":19,"v":0.6},{"p":1,"x":27,"v":1.4},{"p":1,"x":27,"v":1.25},{"p":1,"x":28,"v":-1.05},{"p":1,"x":33,"v":1.35},{"p":1,"x":46,"v":0.9},{"p":1,"x":46,"v":-0.75},
{"p":2,"x":11,"v":-1.45},{"p":2,"x":19,"v":-0.75},
{"p":2,"x":41,"v":-1.6},{"p":2,"x":41,"v":-1.65},{"p":2,"x":41,"v":-1.7},{"p":2,"x":41,"v":-1.75},{"p":2,"x":41,"v":-1.8},{"p":2,"x":41,"v":-1.85},{"p":2,"x":41,"v":-1.9},{"p":2,"x":41,"v":-1.95},{"p":2,"x":41,"v":-2.0},{"p":2,"x":41,"v":-2.05},{"p":2,"x":41,"v":-2.1},{"p":2,"x":41,"v":-2.15},
{"p":2,"x":42,"v":-0.35},{"p":2,"x":42,"v":-0.4},{"p":2,"x":42,"v":-0.45},{"p":2,"x":42,"v":-0.5},{"p":2,"x":42,"v":-0.55},
{"p":3,"x":7,"v":1.35},{"p":3,"x":7,"v":1.25},{"p":3,"x":7,"v":0.4},{"p":3,"x":12,"v":-0.35},{"p":3,"x":12,"v":-1.3},{"p":3,"x":13,"v":0.5},{"p":3,"x":17,"v":0.55},{"p":3,"x":17,"v":-0.4},{"p":3,"x":22,"v":0.6},{"p":3,"x":22,"v":-0.3},{"p":3,"x":23,"v":-0.25},{"p":3,"x":28,"v":0.5},{"p":3,"x":33,"v":1.45},{"p":3,"x":47,"v":-1.75},
{"p":3,"x":48,"v":1.35},{"p":3,"x":48,"v":1.4},{"p":3,"x":48,"v":1.45},{"p":3,"x":48,"v":1.5},{"p":3,"x":48,"v":-0.9},{"p":3,"x":48,"v":-0.95},{"p":3,"x":48,"v":-1.0},{"p":3,"x":48,"v":-1.05},{"p":3,"x":48,"v":-1.1},{"p":3,"x":48,"v":-1.15},{"p":3,"x":48,"v":-1.2},
{"p":4,"x":7,"v":2.3},{"p":4,"x":9,"v":-2.5},{"p":4,"x":9,"v":-3.5},{"p":4,"x":11,"v":-3.7},{"p":4,"x":11,"v":-4.5},{"p":4,"x":11,"v":-4.6},{"p":4,"x":12,"v":2.05},{"p":4,"x":17,"v":2.6},{"p":4,"x":19,"v":-3.3},{"p":4,"x":19,"v":-3.4},{"p":4,"x":24,"v":-1.8},{"p":4,"x":24,"v":-2.45},
{"p":4,"x":41,"v":-3.7},{"p":4,"x":41,"v":-3.75},{"p":4,"x":41,"v":-3.8},{"p":4,"x":41,"v":-3.85},{"p":4,"x":41,"v":-3.9},{"p":4,"x":41,"v":-3.95},{"p":4,"x":41,"v":-4.0},{"p":4,"x":41,"v":-4.05},{"p":4,"x":41,"v":-4.1},{"p":4,"x":41,"v":-4.15},{"p":4,"x":41,"v":-4.2},{"p":4,"x":41,"v":-4.25},{"p":4,"x":41,"v":-4.3},{"p":4,"x":41,"v":-4.35},{"p":4,"x":41,"v":-4.4},{"p":4,"x":41,"v":-4.45},{"p":4,"x":41,"v":-4.5},{"p":4,"x":41,"v":-4.55},{"p":4,"x":41,"v":-4.6},
{"p":4,"x":42,"v":-0.95},{"p":4,"x":42,"v":-1.0},{"p":4,"x":42,"v":-1.05},{"p":4,"x":42,"v":-1.1},{"p":4,"x":42,"v":-1.15},
{"p":4,"x":43,"v":1.4},{"p":4,"x":43,"v":1.45},{"p":4,"x":43,"v":1.5},{"p":4,"x":43,"v":1.55},{"p":4,"x":43,"v":1.6},{"p":4,"x":43,"v":1.65},{"p":4,"x":43,"v":1.7},
{"p":5,"x":2,"v":0.3},{"p":5,"x":7,"v":0.95},{"p":5,"x":12,"v":-1.05},{"p":5,"x":12,"v":-0.6},{"p":5,"x":22,"v":-1.25},{"p":5,"x":22,"v":-1.85},{"p":5,"x":23,"v":1.35},{"p":5,"x":32,"v":-1.2},
{"p":5,"x":46,"v":0.45},{"p":5,"x":46,"v":0.5},{"p":5,"x":46,"v":0.55},{"p":5,"x":46,"v":0.6},{"p":5,"x":46,"v":0.65},{"p":5,"x":46,"v":-0.4},
{"p":5,"x":49,"v":0.45},{"p":5,"x":49,"v":-1.1},{"p":5,"x":49,"v":-1.15},{"p":5,"x":49,"v":-1.2},{"p":5,"x":49,"v":-1.25},{"p":5,"x":49,"v":-1.3},
{"p":6,"x":4,"v":0.05},{"p":6,"x":6,"v":-0.6},{"p":6,"x":7,"v":-0.85},{"p":6,"x":9,"v":1.75},{"p":6,"x":9,"v":0.35},{"p":6,"x":16,"v":-0.45},{"p":6,"x":18,"v":0.25},{"p":6,"x":19,"v":1.25},{"p":6,"x":28,"v":0.35},
{"p":6,"x":41,"v":0.4},{"p":6,"x":41,"v":0.5},{"p":6,"x":41,"v":0.6},{"p":6,"x":41,"v":0.7},{"p":6,"x":41,"v":0.8},{"p":6,"x":41,"v":0.9},{"p":6,"x":41,"v":1.0},{"p":6,"x":41,"v":1.1},{"p":6,"x":41,"v":1.2},{"p":6,"x":41,"v":1.3},{"p":6,"x":41,"v":1.4},{"p":6,"x":41,"v":-0.8},{"p":6,"x":44,"v":2.5},
{"p":7,"x":46,"v":0.95},{"p":7,"x":46,"v":0.9},{"p":7,"x":46,"v":0.85},{"p":7,"x":46,"v":0.7},{"p":7,"x":46,"v":-0.5},{"p":7,"x":46,"v":-0.6},
{"p":7,"x":49,"v":-1.3},{"p":7,"x":49,"v":-1.35},{"p":7,"x":49,"v":-1.4},{"p":7,"x":49,"v":-1.45},{"p":7,"x":49,"v":-1.5},
{"p":8,"x":7,"v":1.2},{"p":8,"x":9,"v":-1.5},{"p":8,"x":9,"v":-2.45},{"p":8,"x":9,"v":-2.55},{"p":8,"x":13,"v":1.65},{"p":8,"x":27,"v":1.65},{"p":8,"x":29,"v":-3.4},{"p":8,"x":37,"v":-1.35},
{"p":8,"x":41,"v":-1.6},{"p":8,"x":41,"v":-1.7},{"p":8,"x":41,"v":-1.8},{"p":8,"x":41,"v":-1.9},{"p":8,"x":41,"v":-2.0},{"p":8,"x":41,"v":-2.1},{"p":8,"x":41,"v":-2.2},{"p":8,"x":41,"v":-2.3},{"p":8,"x":41,"v":-2.4},{"p":8,"x":41,"v":-2.5},{"p":8,"x":41,"v":-2.6},{"p":8,"x":41,"v":-2.7},{"p":8,"x":41,"v":-2.8},
{"p":8,"x":42,"v":3.0},{"p":8,"x":42,"v":3.05},{"p":8,"x":42,"v":3.1},{"p":8,"x":42,"v":3.15},{"p":8,"x":42,"v":3.2},{"p":8,"x":42,"v":3.25},{"p":8,"x":42,"v":3.3},{"p":8,"x":42,"v":3.35},{"p":8,"x":42,"v":3.4},{"p":8,"x":42,"v":3.45},
{"p":8,"x":42,"v":-1.3},{"p":8,"x":42,"v":-1.4},{"p":8,"x":42,"v":-1.5},{"p":8,"x":42,"v":-1.6},{"p":8,"x":42,"v":-1.7},{"p":8,"x":42,"v":-1.8},{"p":8,"x":42,"v":-1.9},{"p":8,"x":42,"v":-2.0},{"p":8,"x":42,"v":-2.1},
{"p":8,"x":43,"v":1.5}
]
},
"concat": [
{"width":297,"height":115,"title":"AgilentG2505A and GenePix in PMT order","view":{"stroke":"#cc3333"},"resolve":{"axis":{"x":"independent","y":"independent"}},
"layer":[
{"data":{"name":"seps"},"transform":[{"filter":"datum.side=='L'"}],"mark":{"type":"rule","color":"#3333dd","strokeDash":[4,3],"strokeWidth":1.3},"encoding":{"x":{"field":"x","type":"quantitative","scale":{"domain":[-1.29,53.37],"nice":false,"zero":false},"axis":{"orient":"bottom","values":[0.5,1,1.5,2,2.5,3,3.5,4,4.5,5,5.5,6,6.5,7,7.5,8,8.5,9,9.5,10,10.5,11,11.5,12,12.5,13,13.5,14,14.5,15,15.5,16,16.5,17,17.5,18,18.5,19,19.5,20,20.5,21,21.5,22,22.5,23,23.5,24,24.5,25,25.5,26,26.5,27,27.5,28,28.5,29,29.5,30,30.5,31,31.5,32,32.5,33,33.5,34,34.5,35,35.5,36,36.5,37,37.5,38,38.5,39,39.5,40,40.5,41,41.5,42,42.5,43,43.5,44,44.5,45,45.5,46,46.5,47,47.5,48,48.5,49,49.5,50],"labels":false,"tickSize":3,"title":null}}}},
{"data":{"values":[{}]},"mark":{"type":"rule","color":"#b5b5b5","strokeDash":[4,3]},"encoding":{"y":{"datum":0,"type":"quantitative","scale":{"domain":[-6.4,4.34],"nice":false,"zero":false},"axis":{"orient":"left","values":[-6,-4,-2,0,2,4],"tickSize":5,"labelPadding":3,"title":"d","titleFontSize":11,"titleAngle":270,"titleAlign":"center","titleBaseline":"alphabetic","titleX":-24.5,"titleY":49.5}}}},
{"data":{"name":"box"},"transform":[{"filter":"datum.p==1"}],"mark":{"type":"rule","color":"#000","strokeDash":[2,2],"strokeWidth":0.7},"encoding":{"x":{"field":"x","type":"quantitative","scale":{"domain":[-1.29,53.37],"nice":false,"zero":false},"axis":{"orient":"bottom","values":[2.5,7.5,12.5,17.5,22.5,27.5,32.5,37.5,42.5,47.5],"ticks":false,"tickSize":0,"labelPadding":4,"labelExpr":"['A','B','C','D','E','F','G','H–1','H–2','A–H'][floor(datum.value / 5)]","labelAngle":270,"title":null,"labelOverlap":false,"labelFlush":false,"labelBound":false}},"y":{"field":"lo","type":"quantitative","scale":{"domain":[-6.4,4.34],"nice":false,"zero":false},"axis":{"orient":"left","domain":false,"ticks":false,"labels":false,"title":"(k)","titleFontSize":7.5,"titleAngle":270,"titleAlign":"center","titleBaseline":"alphabetic","titleX":-30,"titleY":40}},"y2":{"field":"hi"}}},
{"data":{"name":"box"},"transform":[{"filter":"datum.p==1"}],"mark":{"type":"tick","orient":"horizontal","color":"#000","thickness":0.8,"size":3},"encoding":{"x":{"field":"x","type":"quantitative","scale":{"domain":[-1.29,53.37],"nice":false,"zero":false},"axis":null},"y":{"field":"lo","type":"quantitative","scale":{"domain":[-6.4,4.34],"nice":false,"zero":false},"axis":{"orient":"left","domain":false,"ticks":false,"labels":false,"title":"R","titleFontSize":7.5,"titleAngle":270,"titleAlign":"center","titleBaseline":"alphabetic","titleX":-23.5,"titleY":44}}}},
{"data":{"name":"box"},"transform":[{"filter":"datum.p==1"}],"mark":{"type":"tick","orient":"horizontal","color":"#000","thickness":0.8,"size":3},"encoding":{"x":{"field":"x","type":"quantitative","scale":{"domain":[-1.29,53.37],"nice":false,"zero":false},"axis":null},"y":{"field":"hi","type":"quantitative","scale":{"domain":[-6.4,4.34],"nice":false,"zero":false},"axis":null}}},
{"data":{"name":"box"},"transform":[{"filter":"datum.p==1"}],"mark":{"type":"bar","size":5,"stroke":"#000","strokeWidth":0.6},"encoding":{"x":{"field":"x","type":"quantitative","scale":{"domain":[-1.29,53.37],"nice":false,"zero":false},"axis":null},"y":{"field":"q1","type":"quantitative","scale":{"domain":[-6.4,4.34],"nice":false,"zero":false},"axis":null},"y2":{"field":"q3"},"color":{"field":"s","type":"nominal","scale":{"domain":[1,2,3,4],"range":["#111111","#ee2222","#22bb22","#2222ee"]},"legend":null}}},
{"data":{"name":"box"},"transform":[{"filter":"datum.p==1"}],"mark":{"type":"tick","orient":"horizontal","color":"#000","thickness":2,"size":6},"encoding":{"x":{"field":"x","type":"quantitative","scale":{"domain":[-1.29,53.37],"nice":false,"zero":false},"axis":null},"y":{"field":"m","type":"quantitative","scale":{"domain":[-6.4,4.34],"nice":false,"zero":false},"axis":null}}},
{"data":{"name":"out"},"transform":[{"filter":"datum.p==1"}],"mark":{"type":"point","shape":"circle","filled":false,"size":8,"stroke":"#000","strokeWidth":0.6},"encoding":{"x":{"field":"x","type":"quantitative","scale":{"domain":[-1.29,53.37],"nice":false,"zero":false},"axis":null},"y":{"field":"v","type":"quantitative","scale":{"domain":[-6.4,4.34],"nice":false,"zero":false},"axis":null}}}
]},
{"width":291,"height":115,"title":"Axon4000A and GenePix in PMT order","view":{"stroke":"#cc3333"},"resolve":{"axis":{"x":"independent","y":"independent"}},
"layer":[
{"data":{"name":"seps"},"transform":[{"filter":"datum.side=='R'"}],"mark":{"type":"rule","color":"#3333dd","strokeDash":[4,3],"strokeWidth":1.3},"encoding":{"x":{"field":"x","type":"quantitative","scale":{"domain":[-1.16,47.04],"nice":false,"zero":false},"axis":{"orient":"bottom","values":[0.5,1,1.5,2,2.5,3,3.5,4,4.5,5,5.5,6,6.5,7,7.5,8,8.5,9,9.5,10,10.5,11,11.5,12,12.5,13,13.5,14,14.5,15,15.5,16,16.5,17,17.5,18,18.5,19,19.5,20,20.5,21,21.5,22,22.5,23,23.5,24,24.5,25,25.5,26,26.5,27,27.5,28,28.5,29,29.5,30,30.5,31,31.5,32,32.5,33,33.5,34,34.5,35,35.5,36,36.5,37,37.5,38,38.5,39,39.5,40,40.5,41,41.5,42,42.5,43,43.5,44,44.5,45],"labels":false,"tickSize":3,"title":null}}}},
{"data":{"values":[{}]},"mark":{"type":"rule","color":"#b5b5b5","strokeDash":[4,3]},"encoding":{"y":{"datum":0,"type":"quantitative","scale":{"domain":[-6.4,4.34],"nice":false,"zero":false},"axis":{"orient":"left","values":[-6,-4,-2,0,2,4],"tickSize":5,"labelPadding":3,"title":"d","titleFontSize":11,"titleAngle":270,"titleAlign":"center","titleBaseline":"alphabetic","titleX":-24.5,"titleY":49.5}}}},
{"data":{"name":"box"},"transform":[{"filter":"datum.p==2"}],"mark":{"type":"rule","color":"#000","strokeDash":[2,2],"strokeWidth":0.7},"encoding":{"x":{"field":"x","type":"quantitative","scale":{"domain":[-1.16,47.04],"nice":false,"zero":false},"axis":{"orient":"bottom","values":[2.5,7.5,12.5,17.5,22.5,27.5,32.5,37.5,42.5],"ticks":false,"tickSize":0,"labelPadding":4,"labelExpr":"['A','B','C','D','E','F','G','H–1','A–H'][floor(datum.value / 5)]","labelAngle":270,"title":null,"labelOverlap":false,"labelFlush":false,"labelBound":false}},"y":{"field":"lo","type":"quantitative","scale":{"domain":[-6.4,4.34],"nice":false,"zero":false},"axis":{"orient":"left","domain":false,"ticks":false,"labels":false,"title":"(k)","titleFontSize":7.5,"titleAngle":270,"titleAlign":"center","titleBaseline":"alphabetic","titleX":-30,"titleY":40}},"y2":{"field":"hi"}}},
{"data":{"name":"box"},"transform":[{"filter":"datum.p==2"}],"mark":{"type":"tick","orient":"horizontal","color":"#000","thickness":0.8,"size":3},"encoding":{"x":{"field":"x","type":"quantitative","scale":{"domain":[-1.16,47.04],"nice":false,"zero":false},"axis":null},"y":{"field":"lo","type":"quantitative","scale":{"domain":[-6.4,4.34],"nice":false,"zero":false},"axis":{"orient":"left","domain":false,"ticks":false,"labels":false,"title":"R","titleFontSize":7.5,"titleAngle":270,"titleAlign":"center","titleBaseline":"alphabetic","titleX":-23.5,"titleY":44}}}},
{"data":{"name":"box"},"transform":[{"filter":"datum.p==2"}],"mark":{"type":"tick","orient":"horizontal","color":"#000","thickness":0.8,"size":3},"encoding":{"x":{"field":"x","type":"quantitative","scale":{"domain":[-1.16,47.04],"nice":false,"zero":false},"axis":null},"y":{"field":"hi","type":"quantitative","scale":{"domain":[-6.4,4.34],"nice":false,"zero":false},"axis":null}}},
{"data":{"name":"box"},"transform":[{"filter":"datum.p==2"}],"mark":{"type":"bar","size":5.5,"stroke":"#000","strokeWidth":0.6},"encoding":{"x":{"field":"x","type":"quantitative","scale":{"domain":[-1.16,47.04],"nice":false,"zero":false},"axis":null},"y":{"field":"q1","type":"quantitative","scale":{"domain":[-6.4,4.34],"nice":false,"zero":false},"axis":null},"y2":{"field":"q3"},"color":{"field":"s","type":"nominal","scale":{"domain":[1,2,3,4],"range":["#111111","#ee2222","#22bb22","#2222ee"]},"legend":null}}},
{"data":{"name":"box"},"transform":[{"filter":"datum.p==2"}],"mark":{"type":"tick","orient":"horizontal","color":"#000","thickness":2,"size":6.5},"encoding":{"x":{"field":"x","type":"quantitative","scale":{"domain":[-1.16,47.04],"nice":false,"zero":false},"axis":null},"y":{"field":"m","type":"quantitative","scale":{"domain":[-6.4,4.34],"nice":false,"zero":false},"axis":null}}},
{"data":{"name":"out"},"transform":[{"filter":"datum.p==2"}],"mark":{"type":"point","shape":"circle","filled":false,"size":8,"stroke":"#000","strokeWidth":0.6},"encoding":{"x":{"field":"x","type":"quantitative","scale":{"domain":[-1.16,47.04],"nice":false,"zero":false},"axis":null},"y":{"field":"v","type":"quantitative","scale":{"domain":[-6.4,4.34],"nice":false,"zero":false},"axis":null}}}
]},
{"width":297,"height":115,"title":"AgilentG2505A and Spot in PMT order","view":{"stroke":"#cc3333"},"resolve":{"axis":{"x":"independent","y":"independent"}},
"layer":[
{"data":{"name":"seps"},"transform":[{"filter":"datum.side=='L'"}],"mark":{"type":"rule","color":"#3333dd","strokeDash":[4,3],"strokeWidth":1.3},"encoding":{"x":{"field":"x","type":"quantitative","scale":{"domain":[-1.29,53.37],"nice":false,"zero":false},"axis":{"orient":"bottom","values":[0.5,1,1.5,2,2.5,3,3.5,4,4.5,5,5.5,6,6.5,7,7.5,8,8.5,9,9.5,10,10.5,11,11.5,12,12.5,13,13.5,14,14.5,15,15.5,16,16.5,17,17.5,18,18.5,19,19.5,20,20.5,21,21.5,22,22.5,23,23.5,24,24.5,25,25.5,26,26.5,27,27.5,28,28.5,29,29.5,30,30.5,31,31.5,32,32.5,33,33.5,34,34.5,35,35.5,36,36.5,37,37.5,38,38.5,39,39.5,40,40.5,41,41.5,42,42.5,43,43.5,44,44.5,45,45.5,46,46.5,47,47.5,48,48.5,49,49.5,50],"labels":false,"tickSize":3,"title":null}}}},
{"data":{"values":[{}]},"mark":{"type":"rule","color":"#b5b5b5","strokeDash":[4,3]},"encoding":{"y":{"datum":0,"type":"quantitative","scale":{"domain":[-6.4,4.34],"nice":false,"zero":false},"axis":{"orient":"left","values":[-6,-4,-2,0,2,4],"tickSize":5,"labelPadding":3,"title":"d","titleFontSize":11,"titleAngle":270,"titleAlign":"center","titleBaseline":"alphabetic","titleX":-24.5,"titleY":49.5}}}},
{"data":{"name":"box"},"transform":[{"filter":"datum.p==3"}],"mark":{"type":"rule","color":"#000","strokeDash":[2,2],"strokeWidth":0.7},"encoding":{"x":{"field":"x","type":"quantitative","scale":{"domain":[-1.29,53.37],"nice":false,"zero":false},"axis":{"orient":"bottom","values":[2.5,7.5,12.5,17.5,22.5,27.5,32.5,37.5,42.5,47.5],"ticks":false,"tickSize":0,"labelPadding":4,"labelExpr":"['A','B','C','D','E','F','G','H–1','H–2','A–H'][floor(datum.value / 5)]","labelAngle":270,"title":null,"labelOverlap":false,"labelFlush":false,"labelBound":false}},"y":{"field":"lo","type":"quantitative","scale":{"domain":[-6.4,4.34],"nice":false,"zero":false},"axis":{"orient":"left","domain":false,"ticks":false,"labels":false,"title":"(k)","titleFontSize":7.5,"titleAngle":270,"titleAlign":"center","titleBaseline":"alphabetic","titleX":-30,"titleY":40}},"y2":{"field":"hi"}}},
{"data":{"name":"box"},"transform":[{"filter":"datum.p==3"}],"mark":{"type":"tick","orient":"horizontal","color":"#000","thickness":0.8,"size":3},"encoding":{"x":{"field":"x","type":"quantitative","scale":{"domain":[-1.29,53.37],"nice":false,"zero":false},"axis":null},"y":{"field":"lo","type":"quantitative","scale":{"domain":[-6.4,4.34],"nice":false,"zero":false},"axis":{"orient":"left","domain":false,"ticks":false,"labels":false,"title":"R","titleFontSize":7.5,"titleAngle":270,"titleAlign":"center","titleBaseline":"alphabetic","titleX":-23.5,"titleY":44}}}},
{"data":{"name":"box"},"transform":[{"filter":"datum.p==3"}],"mark":{"type":"tick","orient":"horizontal","color":"#000","thickness":0.8,"size":3},"encoding":{"x":{"field":"x","type":"quantitative","scale":{"domain":[-1.29,53.37],"nice":false,"zero":false},"axis":null},"y":{"field":"hi","type":"quantitative","scale":{"domain":[-6.4,4.34],"nice":false,"zero":false},"axis":null}}},
{"data":{"name":"box"},"transform":[{"filter":"datum.p==3"}],"mark":{"type":"bar","size":5,"stroke":"#000","strokeWidth":0.6},"encoding":{"x":{"field":"x","type":"quantitative","scale":{"domain":[-1.29,53.37],"nice":false,"zero":false},"axis":null},"y":{"field":"q1","type":"quantitative","scale":{"domain":[-6.4,4.34],"nice":false,"zero":false},"axis":null},"y2":{"field":"q3"},"color":{"field":"s","type":"nominal","scale":{"domain":[1,2,3,4],"range":["#111111","#ee2222","#22bb22","#2222ee"]},"legend":null}}},
{"data":{"name":"box"},"transform":[{"filter":"datum.p==3"}],"mark":{"type":"tick","orient":"horizontal","color":"#000","thickness":2,"size":6},"encoding":{"x":{"field":"x","type":"quantitative","scale":{"domain":[-1.29,53.37],"nice":false,"zero":false},"axis":null},"y":{"field":"m","type":"quantitative","scale":{"domain":[-6.4,4.34],"nice":false,"zero":false},"axis":null}}},
{"data":{"name":"out"},"transform":[{"filter":"datum.p==3"}],"mark":{"type":"point","shape":"circle","filled":false,"size":8,"stroke":"#000","strokeWidth":0.6},"encoding":{"x":{"field":"x","type":"quantitative","scale":{"domain":[-1.29,53.37],"nice":false,"zero":false},"axis":null},"y":{"field":"v","type":"quantitative","scale":{"domain":[-6.4,4.34],"nice":false,"zero":false},"axis":null}}}
]},
{"width":291,"height":115,"title":"Axon4000A and Spot in PMT order","view":{"stroke":"#cc3333"},"resolve":{"axis":{"x":"independent","y":"independent"}},
"layer":[
{"data":{"name":"seps"},"transform":[{"filter":"datum.side=='R'"}],"mark":{"type":"rule","color":"#3333dd","strokeDash":[4,3],"strokeWidth":1.3},"encoding":{"x":{"field":"x","type":"quantitative","scale":{"domain":[-1.16,47.04],"nice":false,"zero":false},"axis":{"orient":"bottom","values":[0.5,1,1.5,2,2.5,3,3.5,4,4.5,5,5.5,6,6.5,7,7.5,8,8.5,9,9.5,10,10.5,11,11.5,12,12.5,13,13.5,14,14.5,15,15.5,16,16.5,17,17.5,18,18.5,19,19.5,20,20.5,21,21.5,22,22.5,23,23.5,24,24.5,25,25.5,26,26.5,27,27.5,28,28.5,29,29.5,30,30.5,31,31.5,32,32.5,33,33.5,34,34.5,35,35.5,36,36.5,37,37.5,38,38.5,39,39.5,40,40.5,41,41.5,42,42.5,43,43.5,44,44.5,45],"labels":false,"tickSize":3,"title":null}}}},
{"data":{"values":[{}]},"mark":{"type":"rule","color":"#b5b5b5","strokeDash":[4,3]},"encoding":{"y":{"datum":0,"type":"quantitative","scale":{"domain":[-6.4,4.34],"nice":false,"zero":false},"axis":{"orient":"left","values":[-6,-4,-2,0,2,4],"tickSize":5,"labelPadding":3,"title":"d","titleFontSize":11,"titleAngle":270,"titleAlign":"center","titleBaseline":"alphabetic","titleX":-24.5,"titleY":49.5}}}},
{"data":{"name":"box"},"transform":[{"filter":"datum.p==4"}],"mark":{"type":"rule","color":"#000","strokeDash":[2,2],"strokeWidth":0.7},"encoding":{"x":{"field":"x","type":"quantitative","scale":{"domain":[-1.16,47.04],"nice":false,"zero":false},"axis":{"orient":"bottom","values":[2.5,7.5,12.5,17.5,22.5,27.5,32.5,37.5,42.5],"ticks":false,"tickSize":0,"labelPadding":4,"labelExpr":"['A','B','C','D','E','F','G','H–1','A–H'][floor(datum.value / 5)]","labelAngle":270,"title":null,"labelOverlap":false,"labelFlush":false,"labelBound":false}},"y":{"field":"lo","type":"quantitative","scale":{"domain":[-6.4,4.34],"nice":false,"zero":false},"axis":{"orient":"left","domain":false,"ticks":false,"labels":false,"title":"(k)","titleFontSize":7.5,"titleAngle":270,"titleAlign":"center","titleBaseline":"alphabetic","titleX":-30,"titleY":40}},"y2":{"field":"hi"}}},
{"data":{"name":"box"},"transform":[{"filter":"datum.p==4"}],"mark":{"type":"tick","orient":"horizontal","color":"#000","thickness":0.8,"size":3},"encoding":{"x":{"field":"x","type":"quantitative","scale":{"domain":[-1.16,47.04],"nice":false,"zero":false},"axis":null},"y":{"field":"lo","type":"quantitative","scale":{"domain":[-6.4,4.34],"nice":false,"zero":false},"axis":{"orient":"left","domain":false,"ticks":false,"labels":false,"title":"R","titleFontSize":7.5,"titleAngle":270,"titleAlign":"center","titleBaseline":"alphabetic","titleX":-23.5,"titleY":44}}}},
{"data":{"name":"box"},"transform":[{"filter":"datum.p==4"}],"mark":{"type":"tick","orient":"horizontal","color":"#000","thickness":0.8,"size":3},"encoding":{"x":{"field":"x","type":"quantitative","scale":{"domain":[-1.16,47.04],"nice":false,"zero":false},"axis":null},"y":{"field":"hi","type":"quantitative","scale":{"domain":[-6.4,4.34],"nice":false,"zero":false},"axis":null}}},
{"data":{"name":"box"},"transform":[{"filter":"datum.p==4"}],"mark":{"type":"bar","size":5.5,"stroke":"#000","strokeWidth":0.6},"encoding":{"x":{"field":"x","type":"quantitative","scale":{"domain":[-1.16,47.04],"nice":false,"zero":false},"axis":null},"y":{"field":"q1","type":"quantitative","scale":{"domain":[-6.4,4.34],"nice":false,"zero":false},"axis":null},"y2":{"field":"q3"},"color":{"field":"s","type":"nominal","scale":{"domain":[1,2,3,4],"range":["#111111","#ee2222","#22bb22","#2222ee"]},"legend":null}}},
{"data":{"name":"box"},"transform":[{"filter":"datum.p==4"}],"mark":{"type":"tick","orient":"horizontal","color":"#000","thickness":2,"size":6.5},"encoding":{"x":{"field":"x","type":"quantitative","scale":{"domain":[-1.16,47.04],"nice":false,"zero":false},"axis":null},"y":{"field":"m","type":"quantitative","scale":{"domain":[-6.4,4.34],"nice":false,"zero":false},"axis":null}}},
{"data":{"name":"out"},"transform":[{"filter":"datum.p==4"}],"mark":{"type":"point","shape":"circle","filled":false,"size":8,"stroke":"#000","strokeWidth":0.6},"encoding":{"x":{"field":"x","type":"quantitative","scale":{"domain":[-1.16,47.04],"nice":false,"zero":false},"axis":null},"y":{"field":"v","type":"quantitative","scale":{"domain":[-6.4,4.34],"nice":false,"zero":false},"axis":null}}}
]},
{"width":297,"height":115,"title":"AgilentG2505A and GenePix in PMT order","view":{"stroke":"#55cc55"},"resolve":{"axis":{"x":"independent","y":"independent"}},
"layer":[
{"data":{"name":"seps"},"transform":[{"filter":"datum.side=='L'"}],"mark":{"type":"rule","color":"#3333dd","strokeDash":[4,3],"strokeWidth":1.3},"encoding":{"x":{"field":"x","type":"quantitative","scale":{"domain":[-1.29,53.37],"nice":false,"zero":false},"axis":{"orient":"bottom","values":[0.5,1,1.5,2,2.5,3,3.5,4,4.5,5,5.5,6,6.5,7,7.5,8,8.5,9,9.5,10,10.5,11,11.5,12,12.5,13,13.5,14,14.5,15,15.5,16,16.5,17,17.5,18,18.5,19,19.5,20,20.5,21,21.5,22,22.5,23,23.5,24,24.5,25,25.5,26,26.5,27,27.5,28,28.5,29,29.5,30,30.5,31,31.5,32,32.5,33,33.5,34,34.5,35,35.5,36,36.5,37,37.5,38,38.5,39,39.5,40,40.5,41,41.5,42,42.5,43,43.5,44,44.5,45,45.5,46,46.5,47,47.5,48,48.5,49,49.5,50],"labels":false,"tickSize":3,"title":null}}}},
{"data":{"values":[{}]},"mark":{"type":"rule","color":"#b5b5b5","strokeDash":[4,3]},"encoding":{"y":{"datum":0,"type":"quantitative","scale":{"domain":[-6.4,4.34],"nice":false,"zero":false},"axis":{"orient":"left","values":[-6,-4,-2,0,2,4],"tickSize":5,"labelPadding":3,"title":"d","titleFontSize":11,"titleAngle":270,"titleAlign":"center","titleBaseline":"alphabetic","titleX":-24.5,"titleY":49.5}}}},
{"data":{"name":"box"},"transform":[{"filter":"datum.p==5"}],"mark":{"type":"rule","color":"#000","strokeDash":[2,2],"strokeWidth":0.7},"encoding":{"x":{"field":"x","type":"quantitative","scale":{"domain":[-1.29,53.37],"nice":false,"zero":false},"axis":{"orient":"bottom","values":[2.5,7.5,12.5,17.5,22.5,27.5,32.5,37.5,42.5,47.5],"ticks":false,"tickSize":0,"labelPadding":4,"labelExpr":"['A','B','C','D','E','F','G','H–1','H–2','A–H'][floor(datum.value / 5)]","labelAngle":270,"title":null,"labelOverlap":false,"labelFlush":false,"labelBound":false}},"y":{"field":"lo","type":"quantitative","scale":{"domain":[-6.4,4.34],"nice":false,"zero":false},"axis":{"orient":"left","domain":false,"ticks":false,"labels":false,"title":"(k)","titleFontSize":7.5,"titleAngle":270,"titleAlign":"center","titleBaseline":"alphabetic","titleX":-30,"titleY":40}},"y2":{"field":"hi"}}},
{"data":{"name":"box"},"transform":[{"filter":"datum.p==5"}],"mark":{"type":"tick","orient":"horizontal","color":"#000","thickness":0.8,"size":3},"encoding":{"x":{"field":"x","type":"quantitative","scale":{"domain":[-1.29,53.37],"nice":false,"zero":false},"axis":null},"y":{"field":"lo","type":"quantitative","scale":{"domain":[-6.4,4.34],"nice":false,"zero":false},"axis":{"orient":"left","domain":false,"ticks":false,"labels":false,"title":"G","titleFontSize":7.5,"titleAngle":270,"titleAlign":"center","titleBaseline":"alphabetic","titleX":-23.5,"titleY":44}}}},
{"data":{"name":"box"},"transform":[{"filter":"datum.p==5"}],"mark":{"type":"tick","orient":"horizontal","color":"#000","thickness":0.8,"size":3},"encoding":{"x":{"field":"x","type":"quantitative","scale":{"domain":[-1.29,53.37],"nice":false,"zero":false},"axis":null},"y":{"field":"hi","type":"quantitative","scale":{"domain":[-6.4,4.34],"nice":false,"zero":false},"axis":null}}},
{"data":{"name":"box"},"transform":[{"filter":"datum.p==5"}],"mark":{"type":"bar","size":5,"stroke":"#000","strokeWidth":0.6},"encoding":{"x":{"field":"x","type":"quantitative","scale":{"domain":[-1.29,53.37],"nice":false,"zero":false},"axis":null},"y":{"field":"q1","type":"quantitative","scale":{"domain":[-6.4,4.34],"nice":false,"zero":false},"axis":null},"y2":{"field":"q3"},"color":{"field":"s","type":"nominal","scale":{"domain":[1,2,3,4],"range":["#111111","#ee2222","#22bb22","#2222ee"]},"legend":null}}},
{"data":{"name":"box"},"transform":[{"filter":"datum.p==5"}],"mark":{"type":"tick","orient":"horizontal","color":"#000","thickness":2,"size":6},"encoding":{"x":{"field":"x","type":"quantitative","scale":{"domain":[-1.29,53.37],"nice":false,"zero":false},"axis":null},"y":{"field":"m","type":"quantitative","scale":{"domain":[-6.4,4.34],"nice":false,"zero":false},"axis":null}}},
{"data":{"name":"out"},"transform":[{"filter":"datum.p==5"}],"mark":{"type":"point","shape":"circle","filled":false,"size":8,"stroke":"#000","strokeWidth":0.6},"encoding":{"x":{"field":"x","type":"quantitative","scale":{"domain":[-1.29,53.37],"nice":false,"zero":false},"axis":null},"y":{"field":"v","type":"quantitative","scale":{"domain":[-6.4,4.34],"nice":false,"zero":false},"axis":null}}}
]},
{"width":291,"height":115,"title":"Axon4000A and GenePix in PMT order","view":{"stroke":"#55cc55"},"resolve":{"axis":{"x":"independent","y":"independent"}},
"layer":[
{"data":{"name":"seps"},"transform":[{"filter":"datum.side=='R'"}],"mark":{"type":"rule","color":"#3333dd","strokeDash":[4,3],"strokeWidth":1.3},"encoding":{"x":{"field":"x","type":"quantitative","scale":{"domain":[-1.16,47.04],"nice":false,"zero":false},"axis":{"orient":"bottom","values":[0.5,1,1.5,2,2.5,3,3.5,4,4.5,5,5.5,6,6.5,7,7.5,8,8.5,9,9.5,10,10.5,11,11.5,12,12.5,13,13.5,14,14.5,15,15.5,16,16.5,17,17.5,18,18.5,19,19.5,20,20.5,21,21.5,22,22.5,23,23.5,24,24.5,25,25.5,26,26.5,27,27.5,28,28.5,29,29.5,30,30.5,31,31.5,32,32.5,33,33.5,34,34.5,35,35.5,36,36.5,37,37.5,38,38.5,39,39.5,40,40.5,41,41.5,42,42.5,43,43.5,44,44.5,45],"labels":false,"tickSize":3,"title":null}}}},
{"data":{"values":[{}]},"mark":{"type":"rule","color":"#b5b5b5","strokeDash":[4,3]},"encoding":{"y":{"datum":0,"type":"quantitative","scale":{"domain":[-6.4,4.34],"nice":false,"zero":false},"axis":{"orient":"left","values":[-6,-4,-2,0,2,4],"tickSize":5,"labelPadding":3,"title":"d","titleFontSize":11,"titleAngle":270,"titleAlign":"center","titleBaseline":"alphabetic","titleX":-24.5,"titleY":49.5}}}},
{"data":{"name":"box"},"transform":[{"filter":"datum.p==6"}],"mark":{"type":"rule","color":"#000","strokeDash":[2,2],"strokeWidth":0.7},"encoding":{"x":{"field":"x","type":"quantitative","scale":{"domain":[-1.16,47.04],"nice":false,"zero":false},"axis":{"orient":"bottom","values":[2.5,7.5,12.5,17.5,22.5,27.5,32.5,37.5,42.5],"ticks":false,"tickSize":0,"labelPadding":4,"labelExpr":"['A','B','C','D','E','F','G','H–1','A–H'][floor(datum.value / 5)]","labelAngle":270,"title":null,"labelOverlap":false,"labelFlush":false,"labelBound":false}},"y":{"field":"lo","type":"quantitative","scale":{"domain":[-6.4,4.34],"nice":false,"zero":false},"axis":{"orient":"left","domain":false,"ticks":false,"labels":false,"title":"(k)","titleFontSize":7.5,"titleAngle":270,"titleAlign":"center","titleBaseline":"alphabetic","titleX":-30,"titleY":40}},"y2":{"field":"hi"}}},
{"data":{"name":"box"},"transform":[{"filter":"datum.p==6"}],"mark":{"type":"tick","orient":"horizontal","color":"#000","thickness":0.8,"size":3},"encoding":{"x":{"field":"x","type":"quantitative","scale":{"domain":[-1.16,47.04],"nice":false,"zero":false},"axis":null},"y":{"field":"lo","type":"quantitative","scale":{"domain":[-6.4,4.34],"nice":false,"zero":false},"axis":{"orient":"left","domain":false,"ticks":false,"labels":false,"title":"G","titleFontSize":7.5,"titleAngle":270,"titleAlign":"center","titleBaseline":"alphabetic","titleX":-23.5,"titleY":44}}}},
{"data":{"name":"box"},"transform":[{"filter":"datum.p==6"}],"mark":{"type":"tick","orient":"horizontal","color":"#000","thickness":0.8,"size":3},"encoding":{"x":{"field":"x","type":"quantitative","scale":{"domain":[-1.16,47.04],"nice":false,"zero":false},"axis":null},"y":{"field":"hi","type":"quantitative","scale":{"domain":[-6.4,4.34],"nice":false,"zero":false},"axis":null}}},
{"data":{"name":"box"},"transform":[{"filter":"datum.p==6"}],"mark":{"type":"bar","size":5.5,"stroke":"#000","strokeWidth":0.6},"encoding":{"x":{"field":"x","type":"quantitative","scale":{"domain":[-1.16,47.04],"nice":false,"zero":false},"axis":null},"y":{"field":"q1","type":"quantitative","scale":{"domain":[-6.4,4.34],"nice":false,"zero":false},"axis":null},"y2":{"field":"q3"},"color":{"field":"s","type":"nominal","scale":{"domain":[1,2,3,4],"range":["#111111","#ee2222","#22bb22","#2222ee"]},"legend":null}}},
{"data":{"name":"box"},"transform":[{"filter":"datum.p==6"}],"mark":{"type":"tick","orient":"horizontal","color":"#000","thickness":2,"size":6.5},"encoding":{"x":{"field":"x","type":"quantitative","scale":{"domain":[-1.16,47.04],"nice":false,"zero":false},"axis":null},"y":{"field":"m","type":"quantitative","scale":{"domain":[-6.4,4.34],"nice":false,"zero":false},"axis":null}}},
{"data":{"name":"out"},"transform":[{"filter":"datum.p==6"}],"mark":{"type":"point","shape":"circle","filled":false,"size":8,"stroke":"#000","strokeWidth":0.6},"encoding":{"x":{"field":"x","type":"quantitative","scale":{"domain":[-1.16,47.04],"nice":false,"zero":false},"axis":null},"y":{"field":"v","type":"quantitative","scale":{"domain":[-6.4,4.34],"nice":false,"zero":false},"axis":null}}}
]},
{"width":297,"height":115,"title":"AgilentG2505A and Spot in PMT order","view":{"stroke":"#55cc55"},"resolve":{"axis":{"x":"independent","y":"independent"}},
"layer":[
{"data":{"name":"seps"},"transform":[{"filter":"datum.side=='L'"}],"mark":{"type":"rule","color":"#3333dd","strokeDash":[4,3],"strokeWidth":1.3},"encoding":{"x":{"field":"x","type":"quantitative","scale":{"domain":[-1.29,53.37],"nice":false,"zero":false},"axis":{"orient":"bottom","values":[0.5,1,1.5,2,2.5,3,3.5,4,4.5,5,5.5,6,6.5,7,7.5,8,8.5,9,9.5,10,10.5,11,11.5,12,12.5,13,13.5,14,14.5,15,15.5,16,16.5,17,17.5,18,18.5,19,19.5,20,20.5,21,21.5,22,22.5,23,23.5,24,24.5,25,25.5,26,26.5,27,27.5,28,28.5,29,29.5,30,30.5,31,31.5,32,32.5,33,33.5,34,34.5,35,35.5,36,36.5,37,37.5,38,38.5,39,39.5,40,40.5,41,41.5,42,42.5,43,43.5,44,44.5,45,45.5,46,46.5,47,47.5,48,48.5,49,49.5,50],"labels":false,"tickSize":3,"title":null}}}},
{"data":{"values":[{}]},"mark":{"type":"rule","color":"#b5b5b5","strokeDash":[4,3]},"encoding":{"y":{"datum":0,"type":"quantitative","scale":{"domain":[-6.4,4.34],"nice":false,"zero":false},"axis":{"orient":"left","values":[-6,-4,-2,0,2,4],"tickSize":5,"labelPadding":3,"title":"d","titleFontSize":11,"titleAngle":270,"titleAlign":"center","titleBaseline":"alphabetic","titleX":-24.5,"titleY":49.5}}}},
{"data":{"name":"box"},"transform":[{"filter":"datum.p==7"}],"mark":{"type":"rule","color":"#000","strokeDash":[2,2],"strokeWidth":0.7},"encoding":{"x":{"field":"x","type":"quantitative","scale":{"domain":[-1.29,53.37],"nice":false,"zero":false},"axis":{"orient":"bottom","values":[2.5,7.5,12.5,17.5,22.5,27.5,32.5,37.5,42.5,47.5],"ticks":false,"tickSize":0,"labelPadding":4,"labelExpr":"['A','B','C','D','E','F','G','H–1','H–2','A–H'][floor(datum.value / 5)]","labelAngle":270,"title":null,"labelOverlap":false,"labelFlush":false,"labelBound":false}},"y":{"field":"lo","type":"quantitative","scale":{"domain":[-6.4,4.34],"nice":false,"zero":false},"axis":{"orient":"left","domain":false,"ticks":false,"labels":false,"title":"(k)","titleFontSize":7.5,"titleAngle":270,"titleAlign":"center","titleBaseline":"alphabetic","titleX":-30,"titleY":40}},"y2":{"field":"hi"}}},
{"data":{"name":"box"},"transform":[{"filter":"datum.p==7"}],"mark":{"type":"tick","orient":"horizontal","color":"#000","thickness":0.8,"size":3},"encoding":{"x":{"field":"x","type":"quantitative","scale":{"domain":[-1.29,53.37],"nice":false,"zero":false},"axis":null},"y":{"field":"lo","type":"quantitative","scale":{"domain":[-6.4,4.34],"nice":false,"zero":false},"axis":{"orient":"left","domain":false,"ticks":false,"labels":false,"title":"G","titleFontSize":7.5,"titleAngle":270,"titleAlign":"center","titleBaseline":"alphabetic","titleX":-23.5,"titleY":44}}}},
{"data":{"name":"box"},"transform":[{"filter":"datum.p==7"}],"mark":{"type":"tick","orient":"horizontal","color":"#000","thickness":0.8,"size":3},"encoding":{"x":{"field":"x","type":"quantitative","scale":{"domain":[-1.29,53.37],"nice":false,"zero":false},"axis":null},"y":{"field":"hi","type":"quantitative","scale":{"domain":[-6.4,4.34],"nice":false,"zero":false},"axis":null}}},
{"data":{"name":"box"},"transform":[{"filter":"datum.p==7"}],"mark":{"type":"bar","size":5,"stroke":"#000","strokeWidth":0.6},"encoding":{"x":{"field":"x","type":"quantitative","scale":{"domain":[-1.29,53.37],"nice":false,"zero":false},"axis":null},"y":{"field":"q1","type":"quantitative","scale":{"domain":[-6.4,4.34],"nice":false,"zero":false},"axis":null},"y2":{"field":"q3"},"color":{"field":"s","type":"nominal","scale":{"domain":[1,2,3,4],"range":["#111111","#ee2222","#22bb22","#2222ee"]},"legend":null}}},
{"data":{"name":"box"},"transform":[{"filter":"datum.p==7"}],"mark":{"type":"tick","orient":"horizontal","color":"#000","thickness":2,"size":6},"encoding":{"x":{"field":"x","type":"quantitative","scale":{"domain":[-1.29,53.37],"nice":false,"zero":false},"axis":null},"y":{"field":"m","type":"quantitative","scale":{"domain":[-6.4,4.34],"nice":false,"zero":false},"axis":null}}},
{"data":{"name":"out"},"transform":[{"filter":"datum.p==7"}],"mark":{"type":"point","shape":"circle","filled":false,"size":8,"stroke":"#000","strokeWidth":0.6},"encoding":{"x":{"field":"x","type":"quantitative","scale":{"domain":[-1.29,53.37],"nice":false,"zero":false},"axis":null},"y":{"field":"v","type":"quantitative","scale":{"domain":[-6.4,4.34],"nice":false,"zero":false},"axis":null}}}
]},
{"width":291,"height":115,"title":"Axon4000A and Spot in PMT order","view":{"stroke":"#55cc55"},"resolve":{"axis":{"x":"independent","y":"independent"}},
"layer":[
{"data":{"name":"seps"},"transform":[{"filter":"datum.side=='R'"}],"mark":{"type":"rule","color":"#3333dd","strokeDash":[4,3],"strokeWidth":1.3},"encoding":{"x":{"field":"x","type":"quantitative","scale":{"domain":[-1.16,47.04],"nice":false,"zero":false},"axis":{"orient":"bottom","values":[0.5,1,1.5,2,2.5,3,3.5,4,4.5,5,5.5,6,6.5,7,7.5,8,8.5,9,9.5,10,10.5,11,11.5,12,12.5,13,13.5,14,14.5,15,15.5,16,16.5,17,17.5,18,18.5,19,19.5,20,20.5,21,21.5,22,22.5,23,23.5,24,24.5,25,25.5,26,26.5,27,27.5,28,28.5,29,29.5,30,30.5,31,31.5,32,32.5,33,33.5,34,34.5,35,35.5,36,36.5,37,37.5,38,38.5,39,39.5,40,40.5,41,41.5,42,42.5,43,43.5,44,44.5,45],"labels":false,"tickSize":3,"title":null}}}},
{"data":{"values":[{}]},"mark":{"type":"rule","color":"#b5b5b5","strokeDash":[4,3]},"encoding":{"y":{"datum":0,"type":"quantitative","scale":{"domain":[-6.4,4.34],"nice":false,"zero":false},"axis":{"orient":"left","values":[-6,-4,-2,0,2,4],"tickSize":5,"labelPadding":3,"title":"d","titleFontSize":11,"titleAngle":270,"titleAlign":"center","titleBaseline":"alphabetic","titleX":-24.5,"titleY":49.5}}}},
{"data":{"name":"box"},"transform":[{"filter":"datum.p==8"}],"mark":{"type":"rule","color":"#000","strokeDash":[2,2],"strokeWidth":0.7},"encoding":{"x":{"field":"x","type":"quantitative","scale":{"domain":[-1.16,47.04],"nice":false,"zero":false},"axis":{"orient":"bottom","values":[2.5,7.5,12.5,17.5,22.5,27.5,32.5,37.5,42.5],"ticks":false,"tickSize":0,"labelPadding":4,"labelExpr":"['A','B','C','D','E','F','G','H–1','A–H'][floor(datum.value / 5)]","labelAngle":270,"title":null,"labelOverlap":false,"labelFlush":false,"labelBound":false}},"y":{"field":"lo","type":"quantitative","scale":{"domain":[-6.4,4.34],"nice":false,"zero":false},"axis":{"orient":"left","domain":false,"ticks":false,"labels":false,"title":"(k)","titleFontSize":7.5,"titleAngle":270,"titleAlign":"center","titleBaseline":"alphabetic","titleX":-30,"titleY":40}},"y2":{"field":"hi"}}},
{"data":{"name":"box"},"transform":[{"filter":"datum.p==8"}],"mark":{"type":"tick","orient":"horizontal","color":"#000","thickness":0.8,"size":3},"encoding":{"x":{"field":"x","type":"quantitative","scale":{"domain":[-1.16,47.04],"nice":false,"zero":false},"axis":null},"y":{"field":"lo","type":"quantitative","scale":{"domain":[-6.4,4.34],"nice":false,"zero":false},"axis":{"orient":"left","domain":false,"ticks":false,"labels":false,"title":"G","titleFontSize":7.5,"titleAngle":270,"titleAlign":"center","titleBaseline":"alphabetic","titleX":-23.5,"titleY":44}}}},
{"data":{"name":"box"},"transform":[{"filter":"datum.p==8"}],"mark":{"type":"tick","orient":"horizontal","color":"#000","thickness":0.8,"size":3},"encoding":{"x":{"field":"x","type":"quantitative","scale":{"domain":[-1.16,47.04],"nice":false,"zero":false},"axis":null},"y":{"field":"hi","type":"quantitative","scale":{"domain":[-6.4,4.34],"nice":false,"zero":false},"axis":null}}},
{"data":{"name":"box"},"transform":[{"filter":"datum.p==8"}],"mark":{"type":"bar","size":5.5,"stroke":"#000","strokeWidth":0.6},"encoding":{"x":{"field":"x","type":"quantitative","scale":{"domain":[-1.16,47.04],"nice":false,"zero":false},"axis":null},"y":{"field":"q1","type":"quantitative","scale":{"domain":[-6.4,4.34],"nice":false,"zero":false},"axis":null},"y2":{"field":"q3"},"color":{"field":"s","type":"nominal","scale":{"domain":[1,2,3,4],"range":["#111111","#ee2222","#22bb22","#2222ee"]},"legend":null}}},
{"data":{"name":"box"},"transform":[{"filter":"datum.p==8"}],"mark":{"type":"tick","orient":"horizontal","color":"#000","thickness":2,"size":6.5},"encoding":{"x":{"field":"x","type":"quantitative","scale":{"domain":[-1.16,47.04],"nice":false,"zero":false},"axis":null},"y":{"field":"m","type":"quantitative","scale":{"domain":[-6.4,4.34],"nice":false,"zero":false},"axis":null}}},
{"data":{"name":"out"},"transform":[{"filter":"datum.p==8"}],"mark":{"type":"point","shape":"circle","filled":false,"size":8,"stroke":"#000","strokeWidth":0.6},"encoding":{"x":{"field":"x","type":"quantitative","scale":{"domain":[-1.16,47.04],"nice":false,"zero":false},"axis":null},"y":{"field":"v","type":"quantitative","scale":{"domain":[-6.4,4.34],"nice":false,"zero":false},"axis":null}}}
]}
],
"config": {
"font": "Liberation Sans",
"view": {"strokeWidth": 1.5},
"axis": {"labelFont": "Liberation Sans", "labelFontSize": 10.5, "labelColor": "#333333", "tickColor": "#555555", "domain": false, "grid": false, "titleFont": "Liberation Sans", "titleColor": "#222222", "titleFontWeight": "normal", "labelOverlap": false},
"title": {"font": "Liberation Sans", "fontSize": 13.5, "fontWeight": "bold", "color": "#000000", "anchor": "middle", "offset": 2.6, "baseline": "alphabetic"}
}
}
